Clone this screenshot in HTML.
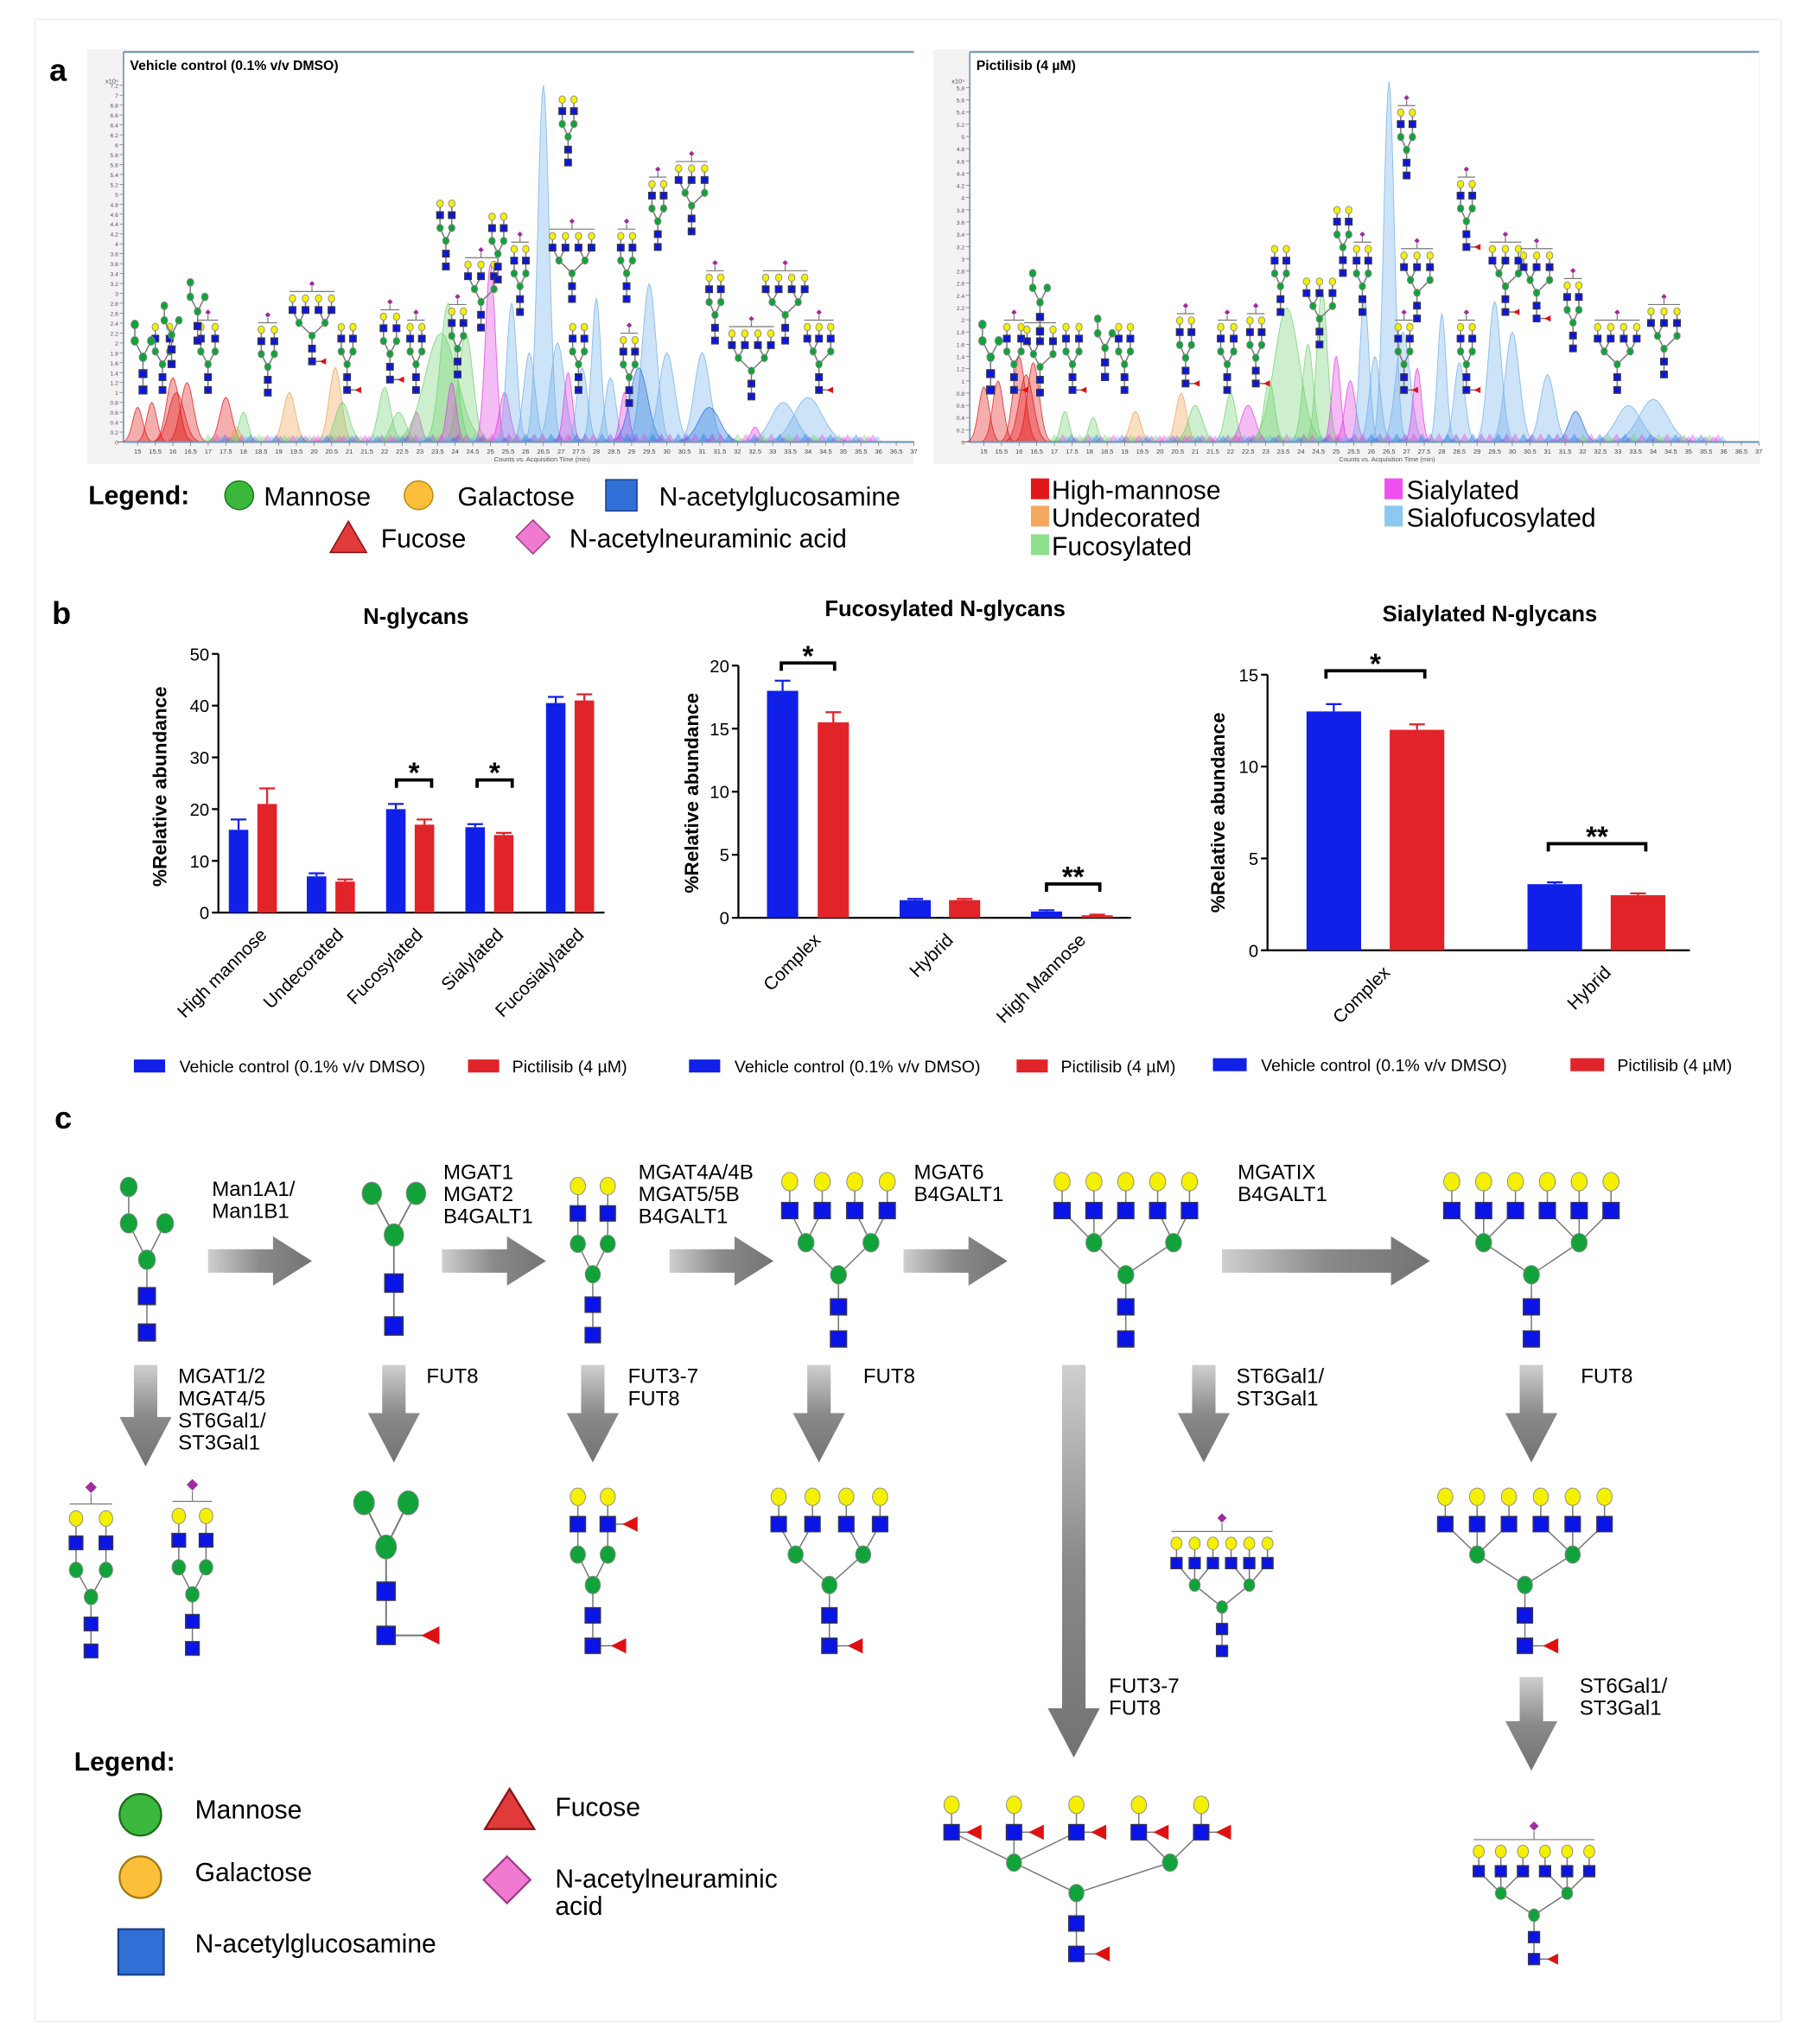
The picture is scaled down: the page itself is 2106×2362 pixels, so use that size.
<!DOCTYPE html>
<html><head><meta charset="utf-8"><style>
html,body{margin:0;padding:0;background:#fff}
svg{display:block}
text{font-family:"Liberation Sans",Arial,sans-serif}
</style></head><body>
<svg id="s" width="2106" height="2362" viewBox="0 0 1400 1570" preserveAspectRatio="none" xmlns="http://www.w3.org/2000/svg">
<defs>
<linearGradient id="ah" x1="0" x2="1" y1="0" y2="0"><stop offset="0" stop-color="#cfcfcf"/><stop offset="0.5" stop-color="#8a8a8a"/><stop offset="1" stop-color="#737373"/></linearGradient>
<linearGradient id="av" x1="0" x2="0" y1="0" y2="1"><stop offset="0" stop-color="#cfcfcf"/><stop offset="0.5" stop-color="#8a8a8a"/><stop offset="1" stop-color="#737373"/></linearGradient>
</defs>
<rect x="27" y="15" width="1343" height="1540" fill="#fff" stroke="#eee"/>
<rect x="67" y="38" width="636" height="319" fill="#f3f3f3"/>
<rect x="95" y="40" width="608" height="300" fill="#fff"/>
<line x1="95" y1="40" x2="703" y2="40" stroke="#7a9ab8" stroke-width="1.5"/>
<line x1="95" y1="40" x2="95" y2="340" stroke="#7a9ab8" stroke-width="1.2"/>
<rect x="718" y="38" width="636" height="319" fill="#f3f3f3"/>
<rect x="746" y="40" width="607" height="300" fill="#fff"/>
<line x1="746" y1="40" x2="1353" y2="40" stroke="#7a9ab8" stroke-width="1.5"/>
<line x1="746" y1="40" x2="746" y2="340" stroke="#7a9ab8" stroke-width="1.2"/>
<text x="38" y="62" font-size="24" font-weight="bold">a</text>
<text x="100" y="54" font-size="10.5" font-weight="bold">Vehicle control (0.1% v/v DMSO)</text>
<text x="751" y="54" font-size="10.5" font-weight="bold">Pictilisib (4 µM)</text>
<text x="380" y="355" font-size="5" fill="#555">Counts vs. Acquisition Time (min)</text>
<text x="1030" y="355" font-size="5" fill="#555">Counts vs. Acquisition Time (min)</text>
<g id="chrom"></g>
<g id="gly"></g>
<text x="68" y="388" font-size="20" font-weight="bold">Legend:</text>
<circle cx="184" cy="381" r="11" fill="#3cb83c" stroke="#1a7a1a"/>
<text x="203" y="389" font-size="20">Mannose</text>
<circle cx="322" cy="381" r="11" fill="#fbbf3a" stroke="#b88a10"/>
<text x="352" y="389" font-size="20">Galactose</text>
<rect x="466" y="369" width="24" height="24" fill="#2f6fd6" stroke="#1a3f8a"/>
<text x="507" y="389" font-size="20">N-acetylglucosamine</text>
<polygon points="268,401 282,425 254,425" fill="#e03a3a" stroke="#8a1010"/>
<text x="293" y="421" font-size="20">Fucose</text>
<polygon points="410,400 423,413 410,426 397,413" fill="#f07ad0" stroke="#a03a8a"/>
<text x="438" y="421" font-size="20">N-acetylneuraminic acid</text>
<rect x="793" y="368" width="14" height="16" fill="#e01818"/><text x="809" y="384" font-size="20">High-mannose</text>
<rect x="793" y="389" width="14" height="16" fill="#f5a860"/><text x="809" y="405" font-size="20">Undecorated</text>
<rect x="793" y="411" width="14" height="16" fill="#8ee08e"/><text x="809" y="427" font-size="20">Fucosylated</text>
<rect x="1065" y="368" width="14" height="16" fill="#f050f0"/><text x="1082" y="384" font-size="20">Sialylated</text>
<rect x="1065" y="389" width="14" height="16" fill="#8cc8f0"/><text x="1082" y="405" font-size="20">Sialofucosylated</text>
<text x="40" y="480" font-size="24" font-weight="bold">b</text>
<text x="320" y="480" font-size="17" font-weight="bold" text-anchor="middle">N-glycans</text>
<text x="727" y="474" font-size="17" font-weight="bold" text-anchor="middle">Fucosylated N-glycans</text>
<text x="1146" y="478" font-size="17" font-weight="bold" text-anchor="middle">Sialylated N-glycans</text>
<g id="bars"></g>
<g font-size="13">
<rect x="103" y="815" width="24" height="10" fill="#1020e8"/><text x="138" y="825">Vehicle control (0.1% v/v DMSO)</text>
<rect x="360" y="815" width="24" height="10" fill="#e0242a"/><text x="394" y="825">Pictilisib (4 µM)</text>
<rect x="530" y="815" width="24" height="10" fill="#1020e8"/><text x="565" y="825">Vehicle control (0.1% v/v DMSO)</text>
<rect x="782" y="815" width="24" height="10" fill="#e0242a"/><text x="816" y="825">Pictilisib (4 µM)</text>
<rect x="933" y="814" width="26" height="10" fill="#1020e8"/><text x="970" y="824">Vehicle control (0.1% v/v DMSO)</text>
<rect x="1208" y="814" width="26" height="10" fill="#e0242a"/><text x="1244" y="824">Pictilisib (4 µM)</text>
</g>
<text x="42" y="868" font-size="24" font-weight="bold">c</text>
<g id="arrows"></g>
<g font-size="16">
<text x="163" y="920">Man1A1/</text><text x="163" y="937">Man1B1</text>
<text x="341" y="907">MGAT1</text><text x="341" y="924">MGAT2</text><text x="341" y="941">B4GALT1</text>
<text x="491" y="907">MGAT4A/4B</text><text x="491" y="924">MGAT5/5B</text><text x="491" y="941">B4GALT1</text>
<text x="703" y="907">MGAT6</text><text x="703" y="924">B4GALT1</text>
<text x="952" y="907">MGATIX</text><text x="952" y="924">B4GALT1</text>
<text x="137" y="1064">MGAT1/2</text><text x="137" y="1081">MGAT4/5</text><text x="137" y="1098">ST6Gal1/</text><text x="137" y="1115">ST3Gal1</text>
<text x="328" y="1064">FUT8</text>
<text x="483" y="1064">FUT3-7</text><text x="483" y="1081">FUT8</text>
<text x="664" y="1064">FUT8</text>
<text x="951" y="1064">ST6Gal1/</text><text x="951" y="1081">ST3Gal1</text>
<text x="1216" y="1064">FUT8</text>
<text x="853" y="1302">FUT3-7</text><text x="853" y="1319">FUT8</text>
<text x="1215" y="1302">ST6Gal1/</text><text x="1215" y="1319">ST3Gal1</text>
</g>
<text x="57" y="1362" font-size="20" font-weight="bold">Legend:</text>
<circle cx="108" cy="1396" r="16" fill="#3cb83c" stroke="#1a6a1a" stroke-width="1.5"/>
<text x="150" y="1399" font-size="20">Mannose</text>
<circle cx="108" cy="1444" r="16" fill="#fbbf3a" stroke="#a07a10" stroke-width="1.5"/>
<text x="150" y="1447" font-size="20">Galactose</text>
<rect x="91" y="1484" width="35" height="35" fill="#2f6fd6" stroke="#1a3f8a" stroke-width="1.5"/>
<text x="150" y="1502" font-size="20">N-acetylglucosamine</text>
<polygon points="392,1376 411,1407 373,1407" fill="#e03a3a" stroke="#8a1010" stroke-width="1.5"/>
<text x="427" y="1397" font-size="20">Fucose</text>
<polygon points="390,1428 408,1446 390,1464 372,1446" fill="#f07ad0" stroke="#a03a8a" stroke-width="1.5"/>
<text x="427" y="1452" font-size="20">N-acetylneuraminic</text>
<text x="427" y="1473" font-size="20">acid</text>
</svg>
<script>
(function(){
function add(id,html){document.getElementById(id).insertAdjacentHTML('beforeend',html);}
var cols={r:"#e01818",o:"#f0a050",g:"#70d070",m:"#e040e0",b:"#70b0e8",d:"#2070e0",p:"#9040e0"};
function chrom(x0,x1,yb,yt,ymax,peaks){
 var s="";
 function X(t){return x0+(t-14.6)*(x1-x0)/22.4;}
 function Y(v){return yb-(v/ymax)*(yb-yt);}
 peaks.forEach(function(p){
  var t=p[0],h=p[1],w=p[2],c=cols[p[3]];
  var d="M"+X(t-4*w).toFixed(1)+","+yb;
  for(var k=-4;k<=4;k+=0.25){var tt=t+k*w;var v=h*Math.exp(-k*k/2);d+=" L"+X(tt).toFixed(1)+","+Y(v).toFixed(1);}
  d+=" L"+X(t+4*w).toFixed(1)+","+yb+"Z";
  s+='<path d="'+d+'" fill="'+c+'" fill-opacity="0.35" stroke="'+c+'" stroke-opacity="0.8" stroke-width="0.6"/>';
 });
 for(var t=17;t<36;t+=0.12){var c=["m","b","d","p","g"][Math.floor(t*7)%5];var h=0.05+0.12*Math.abs(Math.sin(t*13));
  s+='<path d="M'+X(t-0.15).toFixed(1)+','+yb+' L'+X(t).toFixed(1)+','+Y(h*ymax/7).toFixed(1)+' L'+X(t+0.15).toFixed(1)+','+yb+'Z" fill="'+cols[c]+'" fill-opacity="0.4"/>';}
 s+='<line x1="'+x0+'" y1="'+yb+'" x2="'+x1+'" y2="'+yb+'" stroke="#7a9ab8" stroke-width="1.5"/>';
 for(var t=15;t<=37;t+=0.5){var x=X(t);s+='<line x1="'+x+'" y1="'+yb+'" x2="'+x+'" y2="'+(yb+3)+'" stroke="#777" stroke-width="0.5"/><text x="'+x+'" y="'+(yb+9)+'" font-size="5" text-anchor="middle" fill="#444">'+t+'</text>';}
 for(var v=0;v<=ymax;v+=0.2){var y=Y(v);s+='<line x1="'+(x0-3)+'" y1="'+y+'" x2="'+x0+'" y2="'+y+'" stroke="#777" stroke-width="0.5"/><text x="'+(x0-4)+'" y="'+(y+2)+'" font-size="4.5" text-anchor="end" fill="#555">'+(Math.round(v*10)/10)+'</text>';}
 s+='<text x="'+(x0-14)+'" y="'+(yt+6)+'" font-size="5" fill="#555">x10⁵</text>';
 add("chrom",s);
}
var pk1=[[15,0.7,0.14,"r"],[15.4,0.8,0.14,"r"],[16,1.3,0.18,"r"],[16.4,1.2,0.18,"r"],[16.1,1.0,0.22,"r"],[17.5,0.9,0.17,"r"],[18,0.6,0.13,"g"],[17.8,0.3,0.1,"o"],[19.3,1.0,0.17,"o"],[20.6,1.5,0.17,"o"],[20.8,0.8,0.2,"g"],[22,1.1,0.17,"g"],[22.4,0.6,0.2,"g"],[22.9,0.6,0.13,"m"],[23.6,2.2,0.45,"g"],[23.8,2.8,0.22,"g"],[24.3,2.2,0.2,"g"],[23.9,1.2,0.13,"m"],[25,3.6,0.14,"m"],[25.4,1.0,0.15,"m"],[25.6,2.8,0.14,"b"],[26.1,1.8,0.16,"b"],[26.5,7.2,0.16,"b"],[26.9,2.0,0.2,"b"],[27.2,1.4,0.12,"m"],[27.6,1.5,0.15,"b"],[28,2.9,0.13,"b"],[28.4,1.3,0.15,"b"],[28.8,1.0,0.12,"m"],[29.5,3.2,0.2,"b"],[29.2,1.5,0.25,"d"],[30,1.8,0.22,"b"],[31,1.8,0.22,"b"],[31.2,0.7,0.3,"d"],[32.5,0.3,0.12,"m"],[33.3,0.8,0.35,"b"],[34,0.9,0.4,"b"]];
var pk2=[[15,0.9,0.15,"r"],[15.4,1.0,0.15,"r"],[16,1.4,0.17,"r"],[16.4,1.3,0.17,"r"],[16.2,1.1,0.2,"r"],[17.3,0.5,0.12,"g"],[18.1,0.4,0.12,"g"],[19.3,0.5,0.15,"o"],[20.6,0.8,0.15,"o"],[21,0.6,0.2,"g"],[22,0.8,0.15,"g"],[22.5,0.6,0.2,"m"],[23.1,1.0,0.15,"g"],[23.6,2.2,0.35,"g"],[24.2,1.6,0.15,"g"],[24.6,2.5,0.15,"g"],[25,1.4,0.12,"m"],[25.4,1.0,0.15,"m"],[25.8,2.4,0.13,"b"],[26.1,1.4,0.15,"b"],[26.5,5.9,0.15,"b"],[26.9,1.8,0.2,"b"],[27.3,1.2,0.12,"m"],[28,2.1,0.12,"b"],[28.5,1.3,0.15,"b"],[29.5,2.3,0.18,"b"],[30,1.8,0.2,"b"],[31,1.1,0.2,"b"],[31.8,0.5,0.2,"d"],[33.3,0.6,0.35,"b"],[34,0.7,0.4,"b"]];
chrom(95,703,340,58,7.4,pk1);
chrom(746,1353,340,58,6.0,pk2);

var BL="#0a14e6",GR="#11a33a",YE="#f4f000",RD="#e01010",MG="#a02aa0";
function sq(x,y,s){return '<rect x="'+(x-s/2)+'" y="'+(y-s/2)+'" width="'+s+'" height="'+s+'" fill="'+BL+'" stroke="#335"/>';}
function ci(x,y,r,c){return '<ellipse cx="'+x+'" cy="'+y+'" rx="'+r+'" ry="'+(r*1.15)+'" fill="'+c+'" stroke="#888" stroke-width="0.6"/>';}
function tri(x,y,s){return '<polygon points="'+(x-s/2)+','+y+' '+(x+s/2)+','+(y-s/2)+' '+(x+s/2)+','+(y+s/2)+'" fill="'+RD+'"/>';}
function dia(x,y,s){return '<polygon points="'+x+','+(y-s/2)+' '+(x+s/2)+','+y+' '+x+','+(y+s/2)+' '+(x-s/2)+','+y+'" fill="'+MG+'"/>';}
function ln(a,b,c,d,w){return '<line x1="'+a+'" y1="'+b+'" x2="'+c+'" y2="'+d+'" stroke="#777" stroke-width="'+(w||1)+'"/>';}
function cplx(cx,by,n,sp,k,o){
 o=o||{};var s="",q=13*k,r=6.5*k,dy=26*k;
 var y1=by,y2=by-dy,y3=by-2*dy,y4=by-3*dy,y5=by-4*dy,y6=by-4.9*dy;
 var xs=[];for(var i=0;i<n;i++)xs.push(cx+(i-(n-1)/2)*sp);
 var nl=Math.ceil(n/2);var lx=(xs[0]+xs[nl-1])/2,rx=(xs[nl]!==undefined)?(xs[nl]+xs[n-1])/2:cx;
 var lines="";lines+=ln(cx,y1,cx,y3);
 if(o.cf)lines+=ln(cx,y1,cx+20*k,y1);
 if(n>1){lines+=ln(cx,y3,lx,y4)+ln(cx,y3,rx,y4);}
 xs.forEach(function(x,i){var m=i<nl?lx:rx;if(n==1)m=cx;lines+=ln(m,y4,x,y5)+ln(x,y5,x,y6);if(o.af&&(o.af===true||i==o.af-1))lines+=ln(x,y5,x+17*k,y5);});
 s+=lines;
 s+=sq(cx,y1,q)+sq(cx,y2,q)+ci(cx,y3,r,GR);
 if(o.cf)s+=tri(cx+22*k,y1,q);
 if(n>1){s+=ci(lx,y4,r,GR)+ci(rx,y4,r,GR);}
 xs.forEach(function(x,i){s+=sq(x,y5,q)+ci(x,y6,r,YE);if(o.af&&(o.af===true||i==o.af-1))s+=tri(x+19*k,y5,q);});
 if(o.sia){var yb=y6-14*k;s+=ln(xs[0]-6*k,yb,xs[n-1]+6*k,yb,0.8)+ln(cx,yb,cx,yb-10*k,0.8)+dia(cx,yb-16*k,11*k);}
 return s;
}
function hm(cx,by,k,big){
 var s="",q=13*k,r=(big?9:6.5)*k,dy=28*k;
 s+=ln(cx,by,cx,by-2*dy)+ln(cx,by-2*dy,cx-14*k,by-3*dy)+ln(cx,by-2*dy,cx+14*k,by-3*dy)+ln(cx-14*k,by-3*dy,cx-14*k,by-4*dy);
 s+=sq(cx,by,q)+sq(cx,by-dy,q)+ci(cx,by-2*dy,r,GR)+ci(cx-14*k,by-3*dy,r,GR)+ci(cx+14*k,by-3*dy,r,GR)+ci(cx-14*k,by-4*dy,r,GR);
 return s;
}
var G="";
G+=hm(113,1025,1);
G+=ln(303,1020,303,950,1.2)+ln(303,950,286,918,1.2)+ln(303,950,320,918,1.2)+sq(303,1020,14)+sq(303,987,14)+ci(303,950,7.5,GR)+ci(286,918,7.5,GR)+ci(320,918,7.5,GR);
G+=cplx(456,1027,2,23,0.9);
G+=cplx(645,1030,4,25,0.95);
G+=cplx(866,1030,5,24.5,0.95);
G+=cplx(1178,1030,6,24.5,0.95);
G+=cplx(70,1270,2,23,0.8,{sia:true});
G+=cplx(148,1268,2,21,0.8,{sia:true});
G+=ln(297,1258,297,1190,1.3)+ln(297,1190,280,1156,1.3)+ln(297,1190,314,1156,1.3)+ln(297,1258,327,1258,1.3)+sq(297,1258,14)+sq(297,1224,14)+ci(297,1190,8,GR)+ci(280,1156,8,GR)+ci(314,1156,8,GR)+tri(331,1258,14);
G+=cplx(456,1266,2,23,0.9,{cf:true,af:2});
G+=cplx(638,1266,4,26,0.9,{cf:true});
G+=cplx(940,1270,6,14,0.65,{sia:true});
G+=cplx(1173,1266,6,24.5,0.9,{cf:true});
G+=cplx(828,1503,5,48,0.9,{cf:true,af:true});
G+=cplx(1180,1507,6,17,0.65,{sia:true,cf:true});
var k=0.38;
[[125,300,2,11],[160,300,2,11],[206,302,2,10],[240,278,4,10],[267,300,2,9],[300,292,2,10],[320,300,2,9],[352,288,2,9],[343,205,2,9],[370,252,3,10],[383,215,2,9],[400,240,2,9],[437,125,2,9],[440,230,4,10],[445,300,2,9],[482,230,2,9],[484,310,2,9],[506,190,2,9],[532,178,3,10],[550,262,2,9],[578,305,4,10],[604,262,4,10],[630,300,3,9],
 [780,300,2,11],[800,302,3,10],[825,300,2,10],[865,300,2,9],[912,295,2,9],[944,300,2,10],[966,295,2,9],[985,240,2,9],[1015,265,3,10],[1033,210,2,9],[1048,240,2,9],[1082,135,2,9],[1090,245,3,10],[1080,300,2,9],[1128,300,2,9],[1128,190,2,9],[1158,240,3,10],[1182,245,3,10],[1210,268,2,9],[1244,300,4,10],[1280,288,3,10]
].forEach(function(p){G+=cplx(p[0],p[1],p[2],p[3],k,{cf:(p[0]%3==0),sia:(p[0]%2==0)});});
G+=hm(110,300,0.45)+hm(762,300,0.45)+hm(132,280,0.4)+hm(152,262,0.4)+hm(800,255,0.4)+hm(850,290,0.4);
add("gly",G);

var A="";
function harr(x1,x2,y){return '<polygon points="'+x1+','+(y-9)+' '+(x2-30)+','+(y-9)+' '+(x2-30)+','+(y-19)+' '+x2+','+y+' '+(x2-30)+','+(y+19)+' '+(x2-30)+','+(y+9)+' '+x1+','+(y+9)+'" fill="url(#ah)"/>';}
function varr(x,y1,y2){return '<polygon points="'+(x-9)+','+y1+' '+(x+9)+','+y1+' '+(x+9)+','+(y2-38)+' '+(x+20)+','+(y2-38)+' '+x+','+y2+' '+(x-20)+','+(y2-38)+' '+(x-9)+','+(y2-38)+'" fill="url(#av)"/>';}
A+=harr(160,240,970)+harr(340,420,970)+harr(515,595,970)+harr(695,775,970)+harr(940,1100,970);
A+=varr(112,1050,1128)+varr(303,1050,1125)+varr(456,1050,1125)+varr(630,1050,1125)+varr(926,1050,1125)+varr(1178,1050,1125)+varr(826,1050,1352)+varr(1178,1290,1362);
add("arrows",A);

var B="";var BLU="#1020e8",RED="#e0242a";
function chart(ax,x2,y0,ytop,max,step,bars,cats,brk){
 var s="",sc=(y0-ytop)/max;
 s+='<line x1="'+ax+'" y1="'+y0+'" x2="'+x2+'" y2="'+y0+'" stroke="#000" stroke-width="1.5"/><line x1="'+ax+'" y1="'+ytop+'" x2="'+ax+'" y2="'+y0+'" stroke="#000" stroke-width="1.5"/>';
 for(var v=0;v<=max;v+=step){var y=y0-v*sc;s+='<line x1="'+(ax-5)+'" y1="'+y+'" x2="'+ax+'" y2="'+y+'" stroke="#000" stroke-width="1.5"/><text x="'+(ax-7)+'" y="'+(y+5)+'" font-size="13.5" text-anchor="end">'+v+'</text>';}
 bars.forEach(function(b){var h=b[2]*sc;s+='<rect x="'+b[0]+'" y="'+(y0-h)+'" width="'+b[1]+'" height="'+h+'" fill="'+(b[4]?RED:BLU)+'"/>';
  var e=b[3]*sc,cx=b[0]+b[1]/2;s+='<line x1="'+cx+'" y1="'+(y0-h)+'" x2="'+cx+'" y2="'+(y0-h-e)+'" stroke="'+(b[4]?RED:BLU)+'" stroke-width="1.5"/><line x1="'+(cx-6)+'" y1="'+(y0-h-e)+'" x2="'+(cx+6)+'" y2="'+(y0-h-e)+'" stroke="'+(b[4]?RED:BLU)+'" stroke-width="1.5"/>';});
 cats.forEach(function(c){s+='<text transform="translate('+c[1]+','+(y0+18)+') rotate(-45)" font-size="14" text-anchor="end">'+c[0]+'</text>';});
 brk.forEach(function(b){s+='<path d="M'+b[0]+','+(b[2]+6)+' V'+b[2]+' H'+b[1]+' V'+(b[2]+6)+'" fill="none" stroke="#000" stroke-width="2.5"/><text x="'+((b[0]+b[1])/2)+'" y="'+(b[2]+2)+'" font-size="22" font-weight="bold" text-anchor="middle">'+b[3]+'</text>';});
 return s;
}
B+=chart(168,465,702,503,50,10,[[176,15,16,2],[198,15,21,3,1],[236,15,7,0.6],[258,15,6,0.4,1],[297,15,20,1],[319,15,17,1,1],[358,15,16.5,0.6],[380,15,15,0.4,1],[420,15,40.5,1.2],[442,15,41,1.2,1]],
 [["High mannose",206],["Undecorated",265],["Fucosylated",326],["Sialylated",388],["Fucosialylated",450]],[[305,332,600,"*"],[367,394,600,"*"]]);
B+=chart(568,870,706,512,20,5,[[590,24,18,0.8],[629,24,15.5,0.8,1],[692,24,1.4,0.1],[730,24,1.4,0.1,1],[793,24,0.5,0.1],[832,24,0.2,0.05,1]],
 [["Complex",632],["Hybrid",734],["High Mannose",836]],[[601,642,510,"*"],[805,846,680,"**"]]);
B+=chart(975,1300,731,519,15,5,[[1005,42,13,0.4],[1069,42,12,0.3,1],[1175,42,3.6,0.1],[1239,42,3.0,0.1,1]],
 [["Complex",1070],["Hybrid",1240]],[[1020,1096,516,"*"],[1191,1266,649,"**"]]);
B+='<text transform="translate(128,605) rotate(-90)" font-size="15" font-weight="bold" text-anchor="middle">%Relative abundance</text>';
B+='<text transform="translate(537,610) rotate(-90)" font-size="15" font-weight="bold" text-anchor="middle">%Relative abundance</text>';
B+='<text transform="translate(942,625) rotate(-90)" font-size="15" font-weight="bold" text-anchor="middle">%Relative abundance</text>';
add("bars",B);
})();
</script>
</body></html>
